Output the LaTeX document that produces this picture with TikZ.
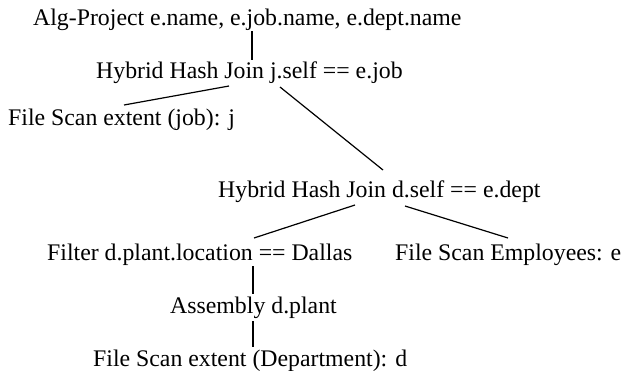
\documentclass[tikz,border=0pt]{standalone}
\usepackage{fontspec}
\setmainfont{Liberation Serif}
\begin{document}
\begin{tikzpicture}[x=1bp,y=-1bp,
  lbl/.style={anchor=base west,inner sep=0pt,font=\fontsize{23.8bp}{28bp}\selectfont},
  edge/.style={line width=1.2bp,black}]
\useasboundingbox (0,0) rectangle (621,370);
\node[lbl] (alg) at (33,25) {Alg-Project e.name, e.job.name, e.dept.name};
\node[lbl] (hj1) at (96,78) {Hybrid Hash Join j.self == e.job};
\node[lbl] (fsj) at (8,125) {File Scan extent (job): j};
\node[lbl] (hj2) at (218,197) {Hybrid Hash Join d.self == e.dept};
\node[lbl] (flt) at (47,260) {Filter d.plant.location == Dallas};
\node[lbl] (fse) at (395,260) {File Scan Employees: e};
\node[lbl] (asm) at (170,313) {Assembly d.plant};
\node[lbl] (fsd) at (93,366) {File Scan extent (Department): d};
\coordinate (a1) at (252,31); \coordinate (a2) at (252,60);
\draw[edge] (a1) -- (a2);
\coordinate (b1) at (229,86); \coordinate (b2) at (124,105);
\draw[edge] (b1) -- (b2);
\coordinate (c1) at (280,87); \coordinate (c2) at (383,170);
\draw[edge] (c1) -- (c2);
\coordinate (d1) at (355,205); \coordinate (d2) at (254,238);
\draw[edge] (d1) -- (d2);
\coordinate (e1) at (405,206); \coordinate (e2) at (508,238);
\draw[edge] (e1) -- (e2);
\coordinate (f1) at (253,266); \coordinate (f2) at (253,294);
\draw[edge] (f1) -- (f2);
\coordinate (g1) at (253,321); \coordinate (g2) at (253,347);
\draw[edge] (g1) -- (g2);
\end{tikzpicture}
\end{document}
